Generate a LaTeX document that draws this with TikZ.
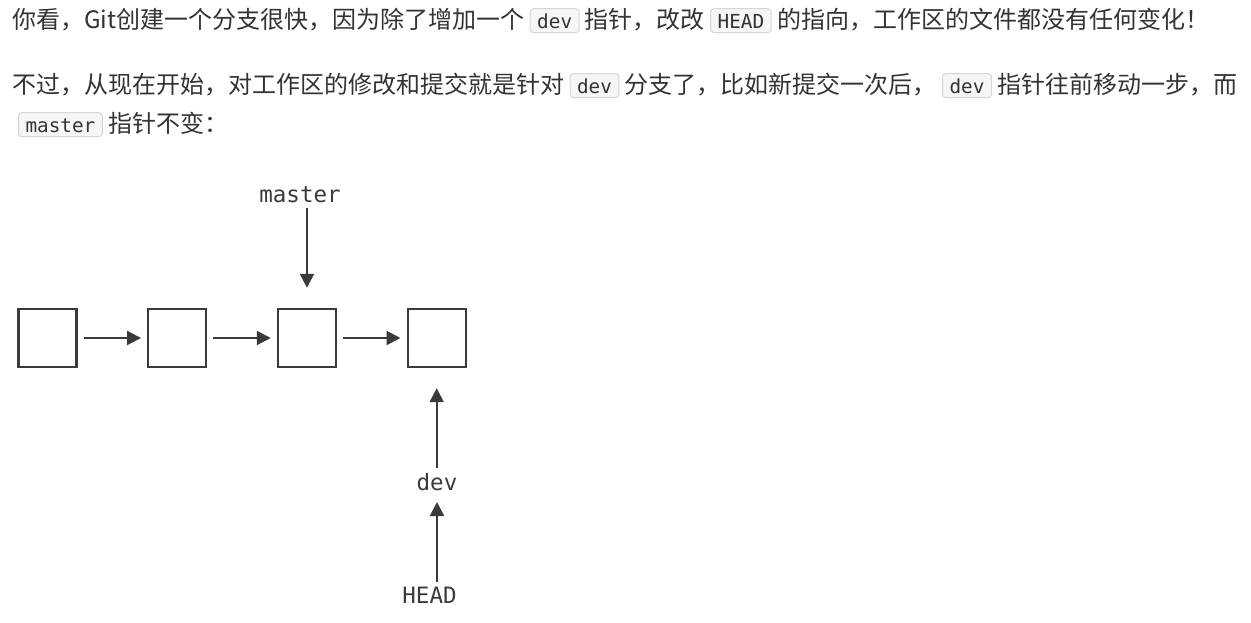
\documentclass[tikz,border=0pt]{standalone}
\usepackage{fontspec}
\setmainfont{Noto Sans CJK SC}
\newfontfamily\codefont{DejaVu Sans Mono}
\usetikzlibrary{positioning,arrows.meta}
\definecolor{txtgray}{HTML}{333333}
\definecolor{diagray}{HTML}{3A3A3A}
\definecolor{chipfill}{HTML}{F6F6F6}
\definecolor{chipline}{HTML}{D6D6D6}
\tikzstyle{txt}=[inner sep=0pt, text=txtgray, font=\fontsize{18pt}{22pt}\selectfont]
\tikzstyle{chip}=[draw=chipline, fill=chipfill, rounded corners=2.5pt, line width=0.75pt, inner xsep=5.25pt, inner ysep=1.25pt, text height=14pt, text depth=1.5pt, text=txtgray, font=\codefont\fontsize{14.5pt}{17pt}\selectfont]
\tikzstyle{commit}=[draw=diagray, line width=1.8pt, minimum size=43.5pt, inner sep=0pt]
\tikzstyle{ptr}=[inner sep=0pt, text=diagray, font=\codefont\fontsize{16.9pt}{20pt}\selectfont]

\begin{document}
\begin{tikzpicture}[x=0.75pt,y=-0.75pt,node distance=97.3pt,>={Triangle[length=10.5pt,width=10.5pt]}]
\fill[white] (0,0) rectangle (1251,623);
\useasboundingbox (0,0) rectangle (1251,623);

% text above the picture
\node[txt, anchor=base west] at (12,29) (l1a) {你看，Git创建一个分支很快，因为除了增加一个};
\node[chip, base right=3.75pt of l1a] (l1b) {dev};
\node[txt, base right=3.75pt of l1b] (l1c) {指针，改改};
\node[chip, base right=3.75pt of l1c] (l1d) {HEAD};
\node[txt, base right=3.75pt of l1d] (l1e) {的指向，工作区的文件都没有任何变化！};

\node[txt, anchor=base west] at (12,94) (l2a) {不过，从现在开始，对工作区的修改和提交就是针对};
\node[chip, base right=3.75pt of l2a] (l2b) {dev};
\node[txt, base right=3.75pt of l2b] (l2c) {分支了，比如新提交一次后，};
\node[chip, base right=3.75pt of l2c] (l2d) {dev};
\node[txt, base right=3.75pt of l2d] (l2e) {指针往前移动一步，而};

\node[chip, anchor=base west] at (18,133) (l3a) {master};
\node[txt, base right=3.75pt of l3a] (l3b) {指针不变：};

% commits
\node[commit] at (47.5,338) (c1) {};
\node[commit, right of = c1] (c2) {};
\node[commit, right of = c2] (c3) {};
\node[commit, right of = c3] (c4) {};
\draw[->,draw=diagray,fill=diagray,line width=1.5pt,shorten <=4.5pt,shorten >=4.5pt] (c1) -- (c2);
\draw[->,draw=diagray,fill=diagray,line width=1.5pt,shorten <=4.5pt,shorten >=4.5pt] (c2) -- (c3);
\draw[->,draw=diagray,fill=diagray,line width=1.5pt,shorten <=4.5pt,shorten >=4.5pt] (c3) -- (c4);

% pointers
\node[ptr] at (300,195) (master) {master};
\draw[->,draw=diagray,fill=diagray,line width=1.5pt,shorten <=9.75pt,shorten >=15pt] (master.center -| c3.center) -- (c3.north);

\node[ptr] at (437,482) (dev) {dev};
\draw[->,draw=diagray,fill=diagray,line width=1.5pt,shorten <=10.5pt,shorten >=15pt] (dev.center -| c4.center) -- (c4.south);

\node[ptr] at (429.5,595) (head) {HEAD};
\draw[->,draw=diagray,fill=diagray,line width=1.5pt,shorten <=9.75pt,shorten >=15pt] (head.center -| dev.center) -- (dev.center);
\end{tikzpicture}
\end{document}
